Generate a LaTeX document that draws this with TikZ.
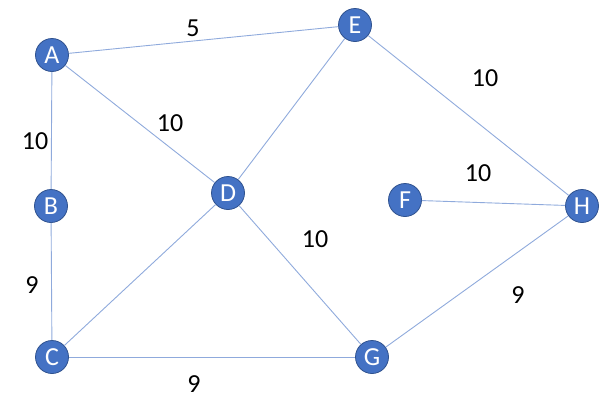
\documentclass[tikz,border=0pt]{standalone}
\usepackage{fontspec}
\setmainfont{Carlito}
\usetikzlibrary{positioning}
\definecolor{nodeblue}{RGB}{68,114,196}
\definecolor{nodeborder}{RGB}{47,82,143}
\definecolor{edgeblue}{RGB}{143,170,220}
\begin{document}
\begin{tikzpicture}[x=1pt,y=-1pt]
\tikzset{
  graphnode/.style={circle,draw=nodeborder,fill=nodeblue,line width=0.8pt,minimum size=33pt,inner sep=0pt,text=white,font=\fontsize{26}{26}\selectfont},
  weight/.style={font=\fontsize{26}{26}\selectfont,inner sep=0pt},
  edge/.style={draw=edgeblue,line width=0.9pt}
}
\useasboundingbox (0,0) rectangle (614,400);
\node[graphnode] (n_A) at (52,55) {A};
\node[graphnode] (n_B) at (51,206) {B};
\node[graphnode] (n_C) at (52,357) {C};
\node[graphnode] (n_D) at (228,193) {D};
\node[graphnode] (n_E) at (355,25) {E};
\node[graphnode] (n_F) at (405,200) {F};
\node[graphnode] (n_G) at (372,357) {G};
\node[graphnode] (n_H) at (582,206) {H};
\draw[edge] (n_A) -- (n_E);
\draw[edge] (n_A) -- (n_B);
\draw[edge] (n_A) -- (n_D);
\draw[edge] (n_B) -- (n_C);
\draw[edge] (n_C) -- (n_D);
\draw[edge] (n_C) -- (n_G);
\draw[edge] (n_D) -- (n_E);
\draw[edge] (n_D) -- (n_G);
\draw[edge] (n_E) -- (n_H);
\draw[edge] (n_F) -- (n_H);
\draw[edge] (n_G) -- (n_H);
\node[weight] (w_AE) at (193,28) {5};
\node[weight] (w_EH) at (485,78) {10};
\node[weight] (w_AB) at (35,141) {10};
\node[weight] (w_AD) at (170,123) {10};
\node[weight] (w_FH) at (478,173) {10};
\node[weight] (w_DG) at (315,239) {10};
\node[weight] (w_BC) at (32,285) {9};
\node[weight] (w_GH) at (518,295) {9};
\node[weight] (w_CG) at (194,384) {9};
\end{tikzpicture}
\end{document}
